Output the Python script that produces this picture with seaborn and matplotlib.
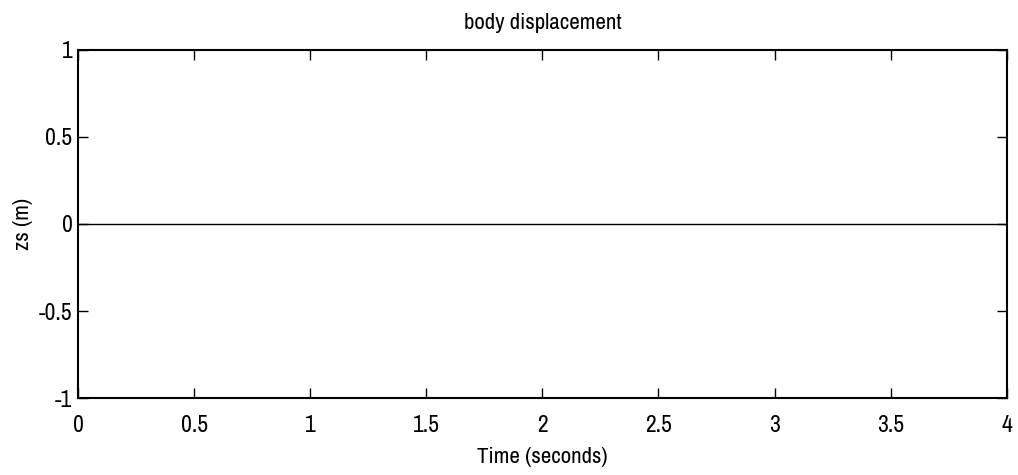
import matplotlib
matplotlib.use("Agg")
import matplotlib.pyplot as plt
import seaborn as sns
import pandas as pd
from matplotlib import font_manager

time_s = [0.0, 4.0]
zs_m = [0.0, 0.0]
x_ticks = [0, 0.5, 1, 1.5, 2, 2.5, 3, 3.5, 4]
x_tick_labels = ["0", "0.5", "1", "1.5", "2", "2.5", "3", "3.5", "4"]
y_ticks = [-1, -0.5, 0, 0.5, 1]
y_tick_labels = ["-1", "-0.5", "0", "0.5", "1"]

sns.set_theme(style="white")
names = {f.name for f in font_manager.fontManager.ttflist}
fam = next((n for n in ["Archivo Narrow", "PT Sans Narrow", "Roboto Condensed", "Liberation Sans"] if n in names), "DejaVu Sans")
plt.rcParams["font.family"] = [fam, "DejaVu Sans"]

fig = plt.figure(figsize=(10.18, 4.75), dpi=100)
ax = fig.add_axes([0.0766, 0.162, 0.9124, 0.733])

df = pd.DataFrame({"t": time_s, "zs": zs_m})
sns.lineplot(data=df, x="t", y="zs", ax=ax, color="black", linewidth=1.0)

ax.set_xlim(0, 4)
ax.set_ylim(-1, 1)
ax.set_xticks(x_ticks)
ax.set_xticklabels(x_tick_labels)
ax.set_yticks(y_ticks)
ax.set_yticklabels(y_tick_labels)
ax.tick_params(direction="in", length=7, width=1, colors="black",
               labelsize=17, top=True, right=True, bottom=True, left=True)
ax.tick_params(axis="x", pad=12)
ax.tick_params(axis="y", pad=4)
for s in ax.spines.values():
    s.set_visible(True)
    s.set_color("black")
    s.set_linewidth(1.5)
ax.set_title("body displacement", fontsize=16.5, color="black", pad=15)
ax.set_xlabel("Time (seconds)", fontsize=16.5, color="black", labelpad=8)
ax.set_ylabel("zs (m)", fontsize=16.5, color="black", labelpad=4)
ax.grid(False)

fig.savefig("out.png", dpi=100, facecolor="white")
